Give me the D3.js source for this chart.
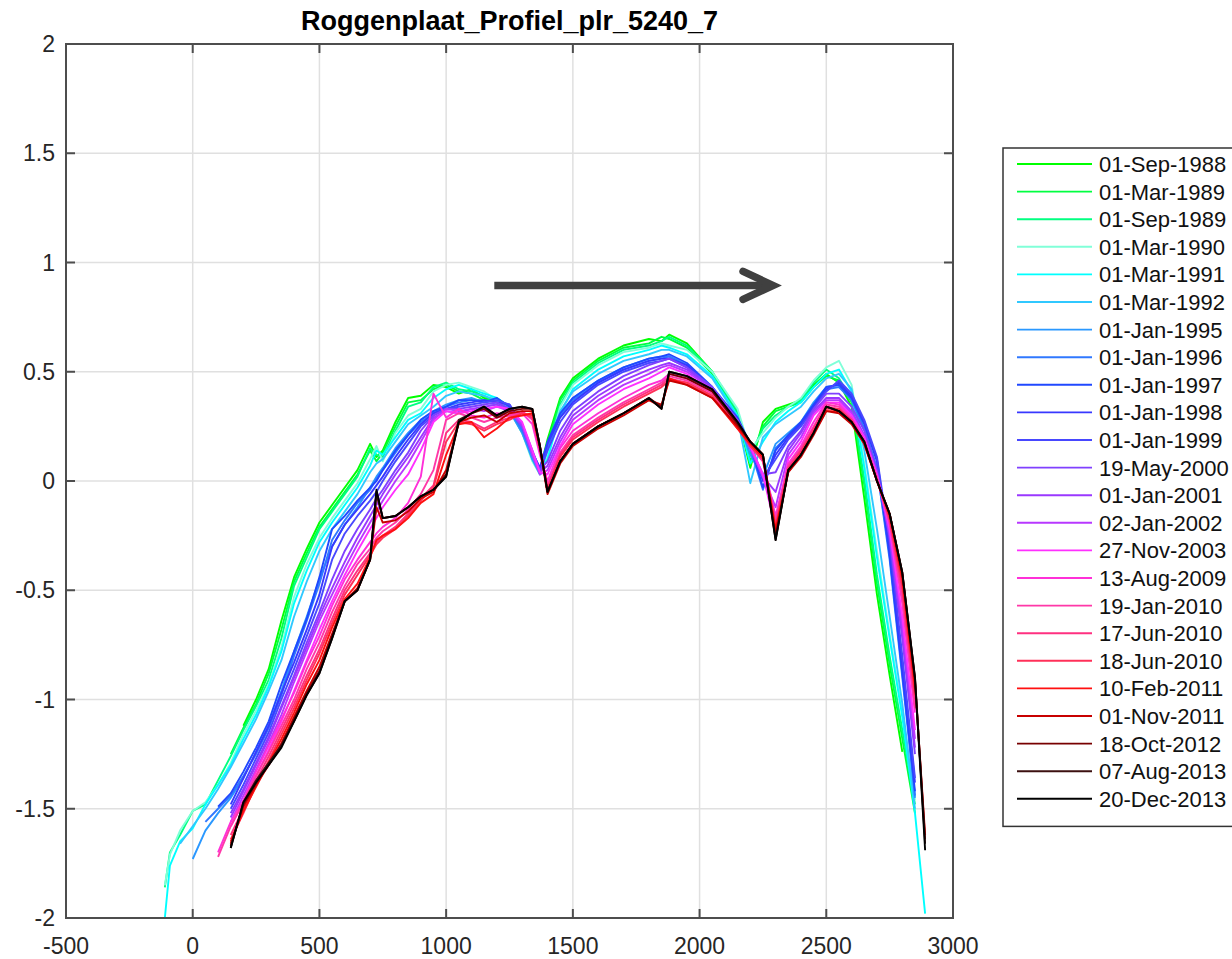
<!DOCTYPE html>
<html>
<head>
<meta charset="utf-8">
<script src="https://cdn.jsdelivr.net/npm/d3@7/dist/d3.min.js"></script>
<style>
  body { margin: 0; background: #fff; }
  text { font-family: "Liberation Sans", Arial, Helvetica, sans-serif; }
</style>
</head>
<body>
<div class="d3chart"></div>
<script>
const _ = null;

// distance along the profile (m)
var chainage = [-110,-90,-50,0,50,100,150,200,250,300,
  350,400,450,500,550,600,650,700,725,750,
  800,850,900,950,1000,1050,1100,1150,1200,1250,
  1300,1340,1370,1400,1450,1500,1600,1700,1800,1850,
  1880,1950,2050,2150,2200,2250,2300,2350,2400,2450,
  2500,2550,2600,2650,2700,2750,2800,2850,2890];

var surveyDates = ["01-Sep-1988","01-Mar-1989","01-Sep-1989","01-Mar-1990","01-Mar-1991","01-Mar-1992",
  "01-Jan-1995","01-Jan-1996","01-Jan-1997","01-Jan-1998","01-Jan-1999","19-May-2000",
  "01-Jan-2001","02-Jan-2002","27-Nov-2003","13-Aug-2009","19-Jan-2010","17-Jun-2010",
  "18-Jun-2010","10-Feb-2011","01-Nov-2011","18-Oct-2012","07-Aug-2013","20-Dec-2013"];

var lineColors = ["#00ff00","#00ff40","#00ff80","#80ffd8","#00ffff","#30c8ff",
  "#2a98ff","#3078ff","#2048ff","#3838ff","#4848ff","#8040ff",
  "#9a38ff","#b838ff","#ff30ff","#ff30d8","#ff38a8","#ff3080",
  "#ff3058","#ff1010","#c80000","#780000","#3c1010","#000000"];

// bed level (m) per survey, on the chainage above
var zSep1988 = [_,_,_,_,_,_,_,-1.12,-1.00,-0.86,
  -0.64,-0.44,-0.31,-0.19,-0.11,-0.03,0.05,0.17,0.11,0.14,
  0.27,0.38,0.39,0.44,0.43,0.40,0.42,0.38,0.37,0.33,
  0.22,0.11,0.05,0.19,0.38,0.47,0.56,0.62,0.65,0.64,
  0.67,0.63,0.50,0.30,0.06,0.27,0.33,0.35,0.37,0.44,
  0.49,0.45,0.34,-0.08,-0.52,-0.89,-1.24,_,_];
var zMar1989 = [_,_,_,_,_,_,-1.25,-1.13,-1.02,-0.88,
  -0.68,-0.46,-0.33,-0.21,-0.13,-0.05,0.03,0.14,0.09,0.13,
  0.25,0.36,0.37,0.42,0.44,0.41,0.40,0.37,0.38,0.34,
  0.23,0.10,0.05,0.17,0.37,0.46,0.55,0.61,0.63,0.66,
  0.65,0.61,0.49,0.31,0.09,0.25,0.32,0.34,0.36,0.43,
  0.48,0.46,0.36,-0.02,-0.47,-0.84,-1.18,-1.52,_];
var zSep1989 = [-1.86,-1.70,-1.62,-1.51,-1.48,-1.37,-1.26,-1.14,-1.03,-0.91,
  -0.72,-0.48,-0.35,-0.22,-0.14,-0.06,0.02,0.15,0.12,0.11,
  0.23,0.34,0.36,0.43,0.45,0.42,0.41,0.39,0.36,0.33,
  0.24,0.12,0.06,0.15,0.35,0.45,0.54,0.60,0.62,0.64,
  0.66,0.62,0.50,0.32,0.12,0.24,0.30,0.34,0.37,0.45,
  0.51,0.47,0.37,0.01,-0.43,-0.80,-1.14,-1.48,_];
var zMar1990 = [-1.85,-1.71,-1.60,-1.51,-1.47,-1.39,-1.29,-1.16,-1.05,-0.93,
  -0.76,-0.53,-0.38,-0.26,-0.17,-0.09,-0.01,0.10,0.16,0.09,
  0.22,0.30,0.33,0.41,0.44,0.45,0.43,0.41,0.37,0.32,
  0.22,0.09,0.03,0.12,0.34,0.44,0.53,0.59,0.61,0.63,
  0.62,0.60,0.50,0.33,0.14,0.22,0.29,0.34,0.38,0.46,
  0.52,0.55,0.44,0.08,-0.32,-0.70,-1.06,-1.46,_];
var zMar1991 = [-2.00,-1.76,-1.65,-1.59,-1.48,-1.39,-1.30,-1.18,-1.07,-0.94,
  -0.78,-0.56,-0.41,-0.28,-0.19,-0.11,-0.03,0.07,0.14,0.12,
  0.20,0.28,0.31,0.38,0.42,0.44,0.42,0.40,0.38,0.34,
  0.25,0.11,0.04,0.10,0.31,0.42,0.51,0.57,0.60,0.62,
  0.61,0.58,0.48,0.30,0.08,0.18,0.27,0.32,0.36,0.43,
  0.49,0.51,0.41,0.06,-0.35,-0.72,-1.08,-1.52,-1.98];
var zMar1992 = [_,_,-1.66,-1.58,-1.50,-1.41,-1.31,-1.20,-1.09,-0.96,
  -0.82,-0.62,-0.46,-0.32,-0.22,-0.14,-0.06,0.04,0.08,0.10,
  0.18,0.26,0.30,0.34,0.39,0.41,0.40,0.39,0.37,0.33,
  0.24,0.10,0.04,0.14,0.32,0.41,0.49,0.55,0.58,0.60,
  0.60,0.57,0.47,0.29,-0.01,0.20,0.26,0.30,0.34,0.41,
  0.47,0.49,0.42,0.14,-0.22,-0.62,-1.02,-1.50,_];
var zJan1995 = [_,_,_,-1.73,-1.60,-1.52,-1.45,-1.36,-1.24,-1.12,
  -0.96,-0.78,-0.62,-0.45,-0.30,-0.20,-0.12,-0.03,0.02,0.06,
  0.15,0.22,0.28,0.32,0.35,0.37,0.38,0.36,0.35,0.32,
  0.22,0.10,0.03,0.15,0.30,0.38,0.46,0.52,0.56,0.57,
  0.57,0.53,0.43,0.28,0.12,0.02,0.17,0.22,0.27,0.36,
  0.43,0.44,0.38,0.24,0.05,-0.33,-0.86,-1.45,_];
var zJan1996 = [_,_,_,_,-1.56,-1.50,-1.44,-1.35,-1.25,-1.13,
  -0.98,-0.80,-0.64,-0.47,-0.27,-0.18,-0.10,-0.04,0.01,0.05,
  0.13,0.21,0.27,0.31,0.34,0.36,0.37,0.37,0.36,0.33,
  0.23,0.12,0.05,0.16,0.30,0.37,0.45,0.51,0.55,0.56,
  0.57,0.53,0.42,0.28,0.15,-0.04,0.15,0.21,0.26,0.35,
  0.42,0.43,0.37,0.24,0.06,-0.36,-0.90,-1.44,_];
var zJan1997 = [_,_,_,_,_,-1.49,-1.43,-1.33,-1.22,-1.10,
  -0.93,-0.78,-0.63,-0.44,-0.22,-0.16,-0.09,-0.03,0.00,0.05,
  0.14,0.21,0.28,0.32,0.34,0.37,0.37,0.36,0.38,0.34,
  0.25,0.13,0.06,0.18,0.31,0.38,0.46,0.52,0.56,0.57,
  0.58,0.54,0.43,0.29,0.17,-0.03,0.14,0.21,0.27,0.35,
  0.43,0.44,0.38,0.26,0.09,-0.34,-0.88,-1.42,_];
var zJan1998 = [_,_,_,_,_,_,-1.48,-1.36,-1.24,-1.12,
  -0.97,-0.83,-0.68,-0.52,-0.30,-0.20,-0.13,-0.06,-0.02,0.02,
  0.11,0.19,0.26,0.31,0.33,0.35,0.36,0.37,0.36,0.35,
  0.26,0.13,0.06,0.17,0.29,0.36,0.45,0.51,0.55,0.56,
  0.56,0.53,0.42,0.28,0.17,0.00,0.12,0.20,0.26,0.34,
  0.42,0.45,0.39,0.27,0.10,-0.31,-0.84,-1.38,_];
var zJan1999 = [_,_,_,_,_,_,-1.50,-1.39,-1.27,-1.15,
  -1.00,-0.86,-0.71,-0.56,-0.36,-0.24,-0.16,-0.09,-0.05,0.00,
  0.09,0.17,0.25,0.30,0.33,0.34,0.35,0.36,0.37,0.35,
  0.26,0.14,0.05,0.14,0.27,0.35,0.44,0.50,0.54,0.55,
  0.56,0.52,0.42,0.28,0.16,0.01,0.10,0.19,0.25,0.33,
  0.41,0.46,0.40,0.28,0.11,-0.28,-0.80,-1.36,_];
var zMay2000 = [_,_,_,_,_,_,-1.52,-1.41,-1.29,-1.17,
  -1.03,-0.89,-0.74,-0.60,-0.45,-0.32,-0.22,-0.13,-0.08,-0.04,
  0.05,0.13,0.23,0.30,0.33,0.33,0.34,0.35,0.36,0.33,
  0.26,0.13,0.05,0.09,0.23,0.32,0.41,0.48,0.53,0.55,
  0.56,0.52,0.43,0.28,0.16,0.03,0.04,0.16,0.23,0.33,
  0.40,0.40,0.34,0.23,0.05,-0.26,-0.72,-1.25,_];
var zJan2001 = [_,_,_,_,_,_,-1.54,-1.42,-1.30,-1.18,
  -1.04,-0.90,-0.76,-0.62,-0.49,-0.37,-0.26,-0.16,-0.11,-0.06,
  0.03,0.11,0.20,0.29,0.32,0.31,0.33,0.34,0.35,0.32,
  0.25,0.12,0.04,0.07,0.20,0.30,0.39,0.46,0.51,0.53,
  0.54,0.51,0.42,0.27,0.15,0.02,-0.05,0.14,0.22,0.32,
  0.38,0.38,0.32,0.21,0.04,-0.25,-0.70,-1.22,_];
var zJan2002 = [_,_,_,_,_,_,-1.56,-1.44,-1.32,-1.20,
  -1.07,-0.92,-0.78,-0.64,-0.52,-0.40,-0.29,-0.19,-0.14,-0.09,
  0.00,0.08,0.18,0.28,0.33,0.32,0.33,0.32,0.34,0.32,
  0.26,0.12,0.03,0.05,0.18,0.28,0.37,0.44,0.49,0.52,
  0.53,0.50,0.42,0.27,0.15,0.02,-0.12,0.12,0.20,0.31,
  0.37,0.37,0.31,0.20,0.03,-0.24,-0.66,-1.18,_];
var zNov2003 = [_,_,_,_,_,_,-1.58,-1.47,-1.35,-1.23,
  -1.10,-0.96,-0.82,-0.68,-0.55,-0.43,-0.32,-0.22,-0.17,-0.12,
  -0.04,0.03,0.14,0.27,0.32,0.31,0.32,0.33,0.34,0.33,
  0.27,0.14,0.04,0.03,0.16,0.26,0.35,0.42,0.47,0.50,
  0.52,0.49,0.41,0.26,0.16,0.03,-0.22,0.10,0.18,0.30,
  0.36,0.36,0.30,0.20,0.03,-0.22,-0.62,-1.14,_];
var zAug2009 = [_,_,_,_,_,-1.70,-1.56,-1.46,-1.33,-1.21,
  -1.09,-0.97,-0.83,-0.71,-0.57,-0.45,-0.36,-0.28,-0.24,-0.21,
  -0.17,-0.10,0.02,0.40,0.29,0.33,0.30,0.29,0.31,0.30,
  0.31,0.26,0.12,0.00,0.15,0.23,0.31,0.38,0.44,0.46,
  0.49,0.47,0.41,0.26,0.17,0.09,-0.16,0.08,0.16,0.27,
  0.36,0.35,0.29,0.19,0.02,-0.20,-0.56,-1.06,_];
var zJan2010 = [_,_,_,_,_,-1.72,-1.58,-1.47,-1.35,-1.24,
  -1.12,-1.00,-0.86,-0.74,-0.60,-0.48,-0.38,-0.31,-0.26,-0.23,
  -0.19,-0.13,-0.06,0.05,0.28,0.31,0.29,0.27,0.29,0.30,
  0.32,0.28,0.14,-0.02,0.13,0.21,0.29,0.36,0.42,0.45,
  0.48,0.46,0.40,0.25,0.16,0.09,-0.18,0.07,0.15,0.25,
  0.35,0.34,0.28,0.18,0.01,-0.19,-0.54,-1.04,_];
var zJun2010a = [_,_,_,_,_,_,-1.62,-1.50,-1.37,-1.26,
  -1.14,-1.02,-0.89,-0.77,-0.63,-0.50,-0.41,-0.33,-0.28,-0.25,
  -0.21,-0.15,-0.08,-0.02,0.22,0.28,0.27,0.24,0.27,0.29,
  0.31,0.29,0.15,-0.03,0.12,0.20,0.28,0.35,0.41,0.44,
  0.47,0.45,0.39,0.25,0.16,0.10,-0.20,0.06,0.14,0.24,
  0.34,0.33,0.28,0.18,0.01,-0.18,-0.50,-1.00,_];
var zJun2010b = [_,_,_,_,_,_,-1.64,-1.52,-1.39,-1.28,
  -1.16,-1.04,-0.91,-0.79,-0.65,-0.52,-0.43,-0.34,-0.29,-0.26,
  -0.22,-0.16,-0.09,-0.03,0.18,0.27,0.26,0.23,0.26,0.28,
  0.31,0.30,0.16,-0.04,0.11,0.19,0.27,0.34,0.40,0.43,
  0.46,0.45,0.39,0.24,0.16,0.10,-0.21,0.05,0.13,0.23,
  0.33,0.33,0.27,0.17,0.00,-0.17,-0.48,-0.98,_];
var zFeb2011 = [_,_,_,_,_,_,-1.65,-1.51,-1.40,-1.29,
  -1.18,-1.06,-0.93,-0.82,-0.67,-0.54,-0.47,-0.35,-0.27,-0.25,
  -0.22,-0.17,-0.10,-0.06,0.12,0.26,0.27,0.20,0.24,0.29,
  0.30,0.31,0.16,-0.05,0.09,0.17,0.25,0.31,0.37,0.34,
  0.47,0.44,0.38,0.24,0.17,0.11,-0.22,0.04,0.12,0.22,
  0.32,0.32,0.27,0.17,0.00,-0.16,-0.45,-0.95,_];
var zNov2011 = [_,_,_,_,_,_,-1.66,-1.49,-1.39,-1.30,
  -1.20,-1.08,-0.96,-0.85,-0.70,-0.55,-0.49,-0.36,-0.12,-0.19,
  -0.18,-0.14,-0.08,-0.05,0.05,0.27,0.29,0.30,0.27,0.31,
  0.32,0.32,0.15,-0.06,0.08,0.16,0.24,0.30,0.37,0.35,
  0.46,0.44,0.38,0.25,0.18,0.12,-0.24,0.04,0.11,0.21,
  0.32,0.31,0.26,0.17,0.00,-0.15,-0.43,-0.92,-1.62];
var zOct2012 = [_,_,_,_,_,_,-1.67,-1.48,-1.38,-1.30,
  -1.21,-1.09,-0.97,-0.87,-0.71,-0.55,-0.50,-0.36,-0.06,-0.17,
  -0.16,-0.12,-0.07,-0.04,0.03,0.27,0.31,0.33,0.29,0.32,
  0.33,0.33,0.16,-0.05,0.09,0.17,0.25,0.31,0.38,0.34,
  0.49,0.47,0.41,0.26,0.18,0.12,-0.26,0.05,0.12,0.22,
  0.34,0.32,0.27,0.18,0.00,-0.15,-0.42,-0.91,-1.64];
var zAug2013 = [_,_,_,_,_,_,-1.68,-1.47,-1.37,-1.29,
  -1.21,-1.10,-0.98,-0.88,-0.72,-0.55,-0.50,-0.36,-0.05,-0.17,
  -0.16,-0.12,-0.07,-0.04,0.02,0.28,0.31,0.34,0.30,0.33,
  0.34,0.33,0.16,-0.05,0.09,0.17,0.25,0.31,0.38,0.33,
  0.50,0.48,0.42,0.27,0.18,0.12,-0.27,0.05,0.12,0.22,
  0.34,0.32,0.27,0.18,0.00,-0.15,-0.42,-0.90,-1.66];
var zDec2013 = [_,_,_,_,_,_,-1.68,-1.47,-1.38,-1.30,
  -1.22,-1.10,-0.98,-0.88,-0.72,-0.55,-0.50,-0.36,-0.04,-0.17,
  -0.16,-0.12,-0.07,-0.04,0.02,0.27,0.31,0.34,0.30,0.33,
  0.34,0.33,0.16,-0.05,0.09,0.17,0.25,0.31,0.38,0.33,
  0.50,0.48,0.42,0.27,0.18,0.12,-0.27,0.05,0.12,0.22,
  0.34,0.32,0.27,0.18,0.00,-0.15,-0.42,-0.90,-1.69];

var profiles = [zSep1988,zMar1989,zSep1989,zMar1990,zMar1991,zMar1992,
  zJan1995,zJan1996,zJan1997,zJan1998,zJan1999,zMay2000,
  zJan2001,zJan2002,zNov2003,zAug2009,zJan2010,zJun2010a,
  zJun2010b,zFeb2011,zNov2011,zOct2012,zAug2013,zDec2013];

var xTicks = [-500,0,500,1000,1500,2000,2500,3000];
var yTicks = [-2,-1.5,-1,-0.5,0,0.5,1,1.5,2];
var yTickLabels = ["-2","-1.5","-1","-0.5","0","0.5","1","1.5","2"];
var chartTitle = "Roggenplaat_Profiel_plr_5240_7";

// annotation arrow, in data units
var arrowFrom = [1190, 0.895];
var arrowTo = [2290, 0.895];

var width = 1232, height = 959;
var margin = {left: 66, right: 279, top: 44, bottom: 41};

var svg = d3.select(".d3chart").append("svg")
    .attr("width", width)
    .attr("height", height);

svg.append("rect").attr("width", width).attr("height", height).attr("fill", "#fff");

/************* scales ***************/
var x = d3.scaleLinear().domain([-500, 3000]).range([margin.left, width - margin.right]);
var y = d3.scaleLinear().domain([-2, 2]).range([height - margin.bottom, margin.top]);

var x0 = x.range()[0], x1 = x.range()[1], y0 = y.range()[0], y1 = y.range()[1];

/************* grid ***************/
var grid = svg.append("g").attr("class", "grid");
grid.selectAll(".vgrid").data(xTicks.slice(1, -1)).enter().append("line")
    .attr("x1", d => x(d)).attr("x2", d => x(d))
    .attr("y1", y1).attr("y2", y0)
    .attr("stroke", "#e0e0e0").attr("stroke-width", 1.5);
grid.selectAll(".hgrid").data(yTicks.slice(1, -1)).enter().append("line")
    .attr("y1", d => y(d)).attr("y2", d => y(d))
    .attr("x1", x0).attr("x2", x1)
    .attr("stroke", "#e0e0e0").attr("stroke-width", 1.5);

/************* profiles ***************/
svg.append("clipPath").attr("id", "plotclip")
  .append("rect").attr("x", x0).attr("y", y1).attr("width", x1 - x0).attr("height", y0 - y1);

var line = d3.line()
    .defined(d => d[1] != null)
    .x(d => x(d[0]))
    .y(d => y(d[1]));

svg.append("g")
    .attr("clip-path", "url(#plotclip)")
    .selectAll("path")
    .data(profiles)
    .enter().append("path")
      .attr("d", z => line(chainage.map((c, i) => [c, z[i]])))
      .attr("fill", "none")
      .attr("stroke", (z, i) => lineColors[i])
      .attr("stroke-width", 1.9)
      .attr("stroke-linejoin", "round");

/************* axes box + ticks ***************/
var axisColor = "#4d4d4d";
var tickLen = 9;
var axes = svg.append("g").attr("class", "axes");

axes.append("rect")
    .attr("x", x0).attr("y", y1).attr("width", x1 - x0).attr("height", y0 - y1)
    .attr("fill", "none").attr("stroke", axisColor).attr("stroke-width", 2);

xTicks.forEach(function(t){
    axes.append("line").attr("x1", x(t)).attr("x2", x(t)).attr("y1", y0).attr("y2", y0 - tickLen)
        .attr("stroke", axisColor).attr("stroke-width", 2);
    axes.append("line").attr("x1", x(t)).attr("x2", x(t)).attr("y1", y1).attr("y2", y1 + tickLen)
        .attr("stroke", axisColor).attr("stroke-width", 2);
});
yTicks.forEach(function(t){
    axes.append("line").attr("x1", x0).attr("x2", x0 + tickLen).attr("y1", y(t)).attr("y2", y(t))
        .attr("stroke", axisColor).attr("stroke-width", 2);
    axes.append("line").attr("x1", x1).attr("x2", x1 - tickLen).attr("y1", y(t)).attr("y2", y(t))
        .attr("stroke", axisColor).attr("stroke-width", 2);
});

axes.selectAll(".xlab").data(xTicks).enter().append("text")
    .attr("x", d => x(d)).attr("y", y0 + 36)
    .attr("text-anchor", "middle")
    .attr("font-size", 23).attr("fill", "#262626")
    .text(d => d);

axes.selectAll(".ylab").data(yTicks).enter().append("text")
    .attr("x", x0 - 11).attr("y", d => y(d) + 8)
    .attr("text-anchor", "end")
    .attr("font-size", 23).attr("fill", "#262626")
    .text((d, i) => yTickLabels[i]);

svg.append("text")
    .attr("x", (x0 + x1) / 2).attr("y", 30)
    .attr("text-anchor", "middle")
    .attr("font-size", 27).attr("font-weight", "bold").attr("fill", "#000")
    .text(chartTitle);

/************* arrow ***************/
var ax0 = x(arrowFrom[0]), ay = y(arrowFrom[1]), ax1 = x(arrowTo[0]);
var arrow = svg.append("g").attr("stroke", "#404040").attr("stroke-width", 7.5)
    .attr("stroke-linecap", "round").attr("fill", "none");
arrow.append("line").attr("x1", ax0).attr("x2", ax1 - 4).attr("y1", ay).attr("y2", ay)
    .attr("stroke-linecap", "butt");
arrow.append("path")
    .attr("d", "M" + (ax1 - 30) + "," + (ay - 14) + "L" + ax1 + "," + ay + "L" + (ax1 - 30) + "," + (ay + 14))
    .attr("stroke-linejoin", "miter");

/************* legend ***************/
var legX = 1003, legY = 148, rowH = 27.6;
var legend = svg.append("g").attr("class", "legend");
legend.append("rect")
    .attr("x", legX).attr("y", legY)
    .attr("width", 260).attr("height", 16 + rowH * surveyDates.length)
    .attr("fill", "#fff").attr("stroke", "#333").attr("stroke-width", 1.5);

var rows = legend.selectAll(".leg-row").data(surveyDates).enter().append("g")
    .attr("transform", (d, i) => "translate(0," + (legY + 16 + i * rowH) + ")");
rows.append("line")
    .attr("x1", 1017).attr("x2", 1092).attr("y1", 0).attr("y2", 0)
    .attr("stroke", (d, i) => lineColors[i]).attr("stroke-width", 1.9);
rows.append("text")
    .attr("x", 1099).attr("y", 8)
    .attr("font-size", 22).attr("fill", "#111")
    .text(d => d);
</script>
</body>
</html>
